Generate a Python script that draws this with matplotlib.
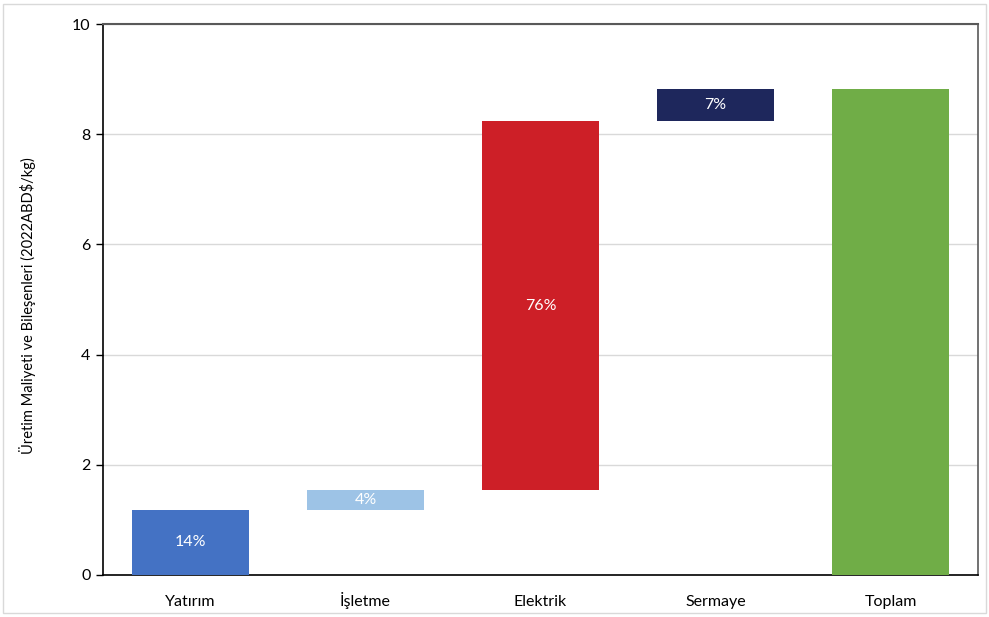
import matplotlib.pyplot as plt

categories = ['Yatırım', 'İşletme', 'Elektrik', 'Sermaye', 'Toplam']
components = [1.18, 0.36, 6.70, 0.58]  # cost steps (2022 ABD$/kg)
labels = ['14%', '4%', '76%', '7%', '']
colors = ['#4472C4', '#9DC3E6', '#CD1F27', '#1E275C', '#70AD47']

plt.rcParams['font.family'] = ['Lato', 'DejaVu Sans']

# waterfall: each step starts where the previous one ended, total from zero
bottoms = []
acc = 0
for v in components:
    bottoms.append(acc)
    acc += v
heights = components + [acc]
bottoms = bottoms + [0]

fig = plt.figure(figsize=(9.89, 6.17), dpi=100)
ax = fig.add_axes([103/989, 42/617, 875/989, 551/617])

x = range(len(categories))
ax.bar(x, heights, bottom=bottoms, width=0.67, color=colors, zorder=3)
for i, lab in enumerate(labels):
    if lab:
        ax.text(i, bottoms[i] + heights[i]/2, lab, ha='center', va='center',
                color='white', fontsize=11.5, zorder=4)

ax.set_xlim(-0.5, 4.5)
ax.set_ylim(0, 10)
ax.set_yticks([0, 2, 4, 6, 8, 10])
ax.set_xticks(list(x))
ax.set_xticklabels(categories)
ax.tick_params(axis='x', length=0, pad=22, labelsize=11.5)
for t in ax.get_xticklabels():
    t.set_verticalalignment('baseline')
ax.tick_params(axis='y', length=5, width=1, labelsize=11.5, direction='out', pad=4)
ax.grid(axis='y', color='#D9D9D9', linewidth=1, zorder=0)
ax.spines['left'].set_color('black')
ax.spines['bottom'].set_color('black')
ax.spines['top'].set_color('#595959')
ax.spines['right'].set_color('#595959')
ax.spines['top'].set_linewidth(1.5)
for s in ['left', 'bottom', 'right']:
    ax.spines[s].set_linewidth(1.2)
ax.set_ylabel('Üretim Maliyeti ve Bileşenleri (2022ABD$/kg)', fontsize=10.5)
ax.yaxis.set_label_coords(-0.077, 0.488)

# light outer frame
fig.patches.append(plt.Rectangle((3/989, 4/617), 983/989, 609/617, transform=fig.transFigure,
                                 fill=False, edgecolor='#D9D9D9', linewidth=1))

fig.savefig('out.png', dpi=100)
